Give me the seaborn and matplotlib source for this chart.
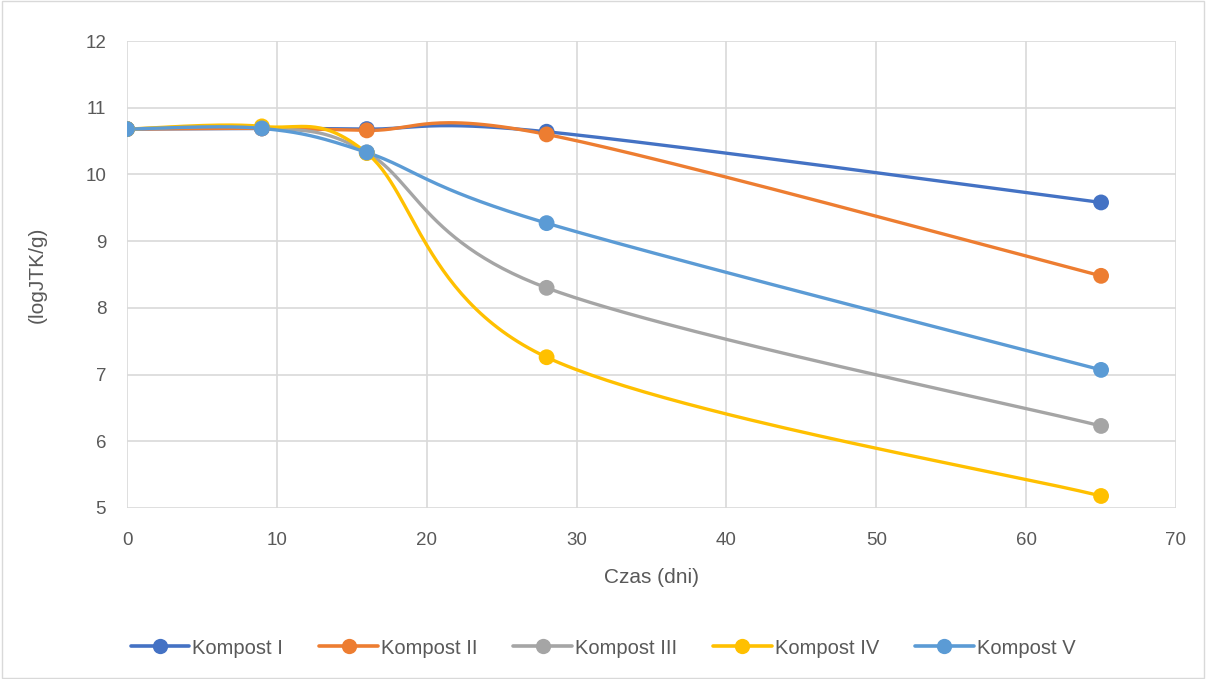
import matplotlib
matplotlib.use("Agg")
import matplotlib.pyplot as plt
import numpy as np
import pandas as pd
import seaborn as sns

# values
days = [0, 9, 16, 28, 65]
kompost_1 = [10.68, 10.69, 10.68, 10.64, 9.58]
kompost_2 = [10.68, 10.69, 10.66, 10.60, 8.48]
kompost_3 = [10.68, 10.70, 10.33, 8.30, 6.23]
kompost_4 = [10.68, 10.72, 10.32, 7.26, 5.18]
kompost_5 = [10.68, 10.69, 10.33, 9.27, 7.07]

series_names = ["Kompost I", "Kompost II", "Kompost III", "Kompost IV", "Kompost V"]
series_values = [kompost_1, kompost_2, kompost_3, kompost_4, kompost_5]
colors = ["#4472C4", "#ED7D31", "#A5A5A5", "#FFC000", "#5B9BD5"]

x_ticks = list(range(0, 71, 10))
y_ticks = list(range(5, 13))


def smooth_curve(xs, ys, steps=60):
    """Catmull-Rom style bezier smoothing, similar to spreadsheet 'smoothed line'."""
    pts = np.column_stack([xs, ys]).astype(float)
    n = len(pts)
    out = []
    for i in range(n - 1):
        p0 = pts[max(i - 1, 0)]
        p1 = pts[i]
        p2 = pts[i + 1]
        p3 = pts[min(i + 2, n - 1)]
        c1 = p1 + (p2 - p0) / 6.0
        c2 = p2 - (p3 - p1) / 6.0
        t = np.linspace(0, 1, steps)[:, None]
        seg = ((1 - t) ** 3) * p1 + 3 * ((1 - t) ** 2) * t * c1 + 3 * (1 - t) * t ** 2 * c2 + t ** 3 * p2
        out.append(seg if i == 0 else seg[1:])
    curve = np.vstack(out)
    return curve[:, 0], curve[:, 1]


def main() -> None:
    sns.set_style("white")
    plt.rcParams["font.family"] = ["Liberation Sans", "DejaVu Sans"]

    frame = pd.DataFrame(
        [(name, d, v) for name, vals in zip(series_names, series_values) for d, v in zip(days, vals)],
        columns=["seria", "dni", "wartosc"],
    )

    fig = plt.figure(figsize=(12.06, 6.79), dpi=100)
    ax = fig.add_axes([127 / 1206, 1 - 508 / 679, (1176 - 127) / 1206, (508 - 41) / 679])

    for name, color in zip(series_names, colors):
        sub = frame[frame["seria"] == name]
        sx, sy = smooth_curve(sub["dni"].to_numpy(), sub["wartosc"].to_numpy())
        ax.plot(sx, sy, color=color, linewidth=2.4, solid_capstyle="round", zorder=3)
        sns.scatterplot(
            data=sub, x="dni", y="wartosc", color=color, s=130, edgecolor="none",
            ax=ax, zorder=4, legend=False,
        )

    ax.set_xlim(0, 70)
    ax.set_ylim(5, 12)
    ax.set_xticks(x_ticks)
    ax.set_yticks(y_ticks)
    ax.grid(True, color="#d9d9d9", linewidth=1.2)
    ax.set_axisbelow(True)
    for spine in ax.spines.values():
        spine.set_visible(False)
    ax.tick_params(axis="both", length=0, labelsize=13.5, labelcolor="#595959")
    ax.tick_params(axis="x", pad=17)
    ax.tick_params(axis="y", pad=15)
    ax.set_xlabel("Czas (dni)", fontsize=15, color="#595959", labelpad=14)
    ax.set_ylabel("(logJTK/g)", fontsize=15, color="#595959", labelpad=28)

    handles = [
        plt.Line2D([], [], color=c, linewidth=2.6, marker="o", markersize=11, markeredgewidth=0)
        for c in colors
    ]
    leg = fig.legend(
        handles, series_names, loc="center", bbox_to_anchor=(0.5, 1 - 648 / 679), ncol=5,
        frameon=False, fontsize=14.5, handlelength=2.9, columnspacing=1.8, handletextpad=0.15,
    )
    for text in leg.get_texts():
        text.set_color("#595959")

    border = plt.Rectangle((0.002, 0.002), 0.996, 0.996, transform=fig.transFigure,
                           fill=False, edgecolor="#d9d9d9", linewidth=1)
    fig.patches.append(border)

    fig.savefig("out.png", dpi=100, facecolor="white")
    plt.close(fig)


if __name__ == "__main__":
    main()
